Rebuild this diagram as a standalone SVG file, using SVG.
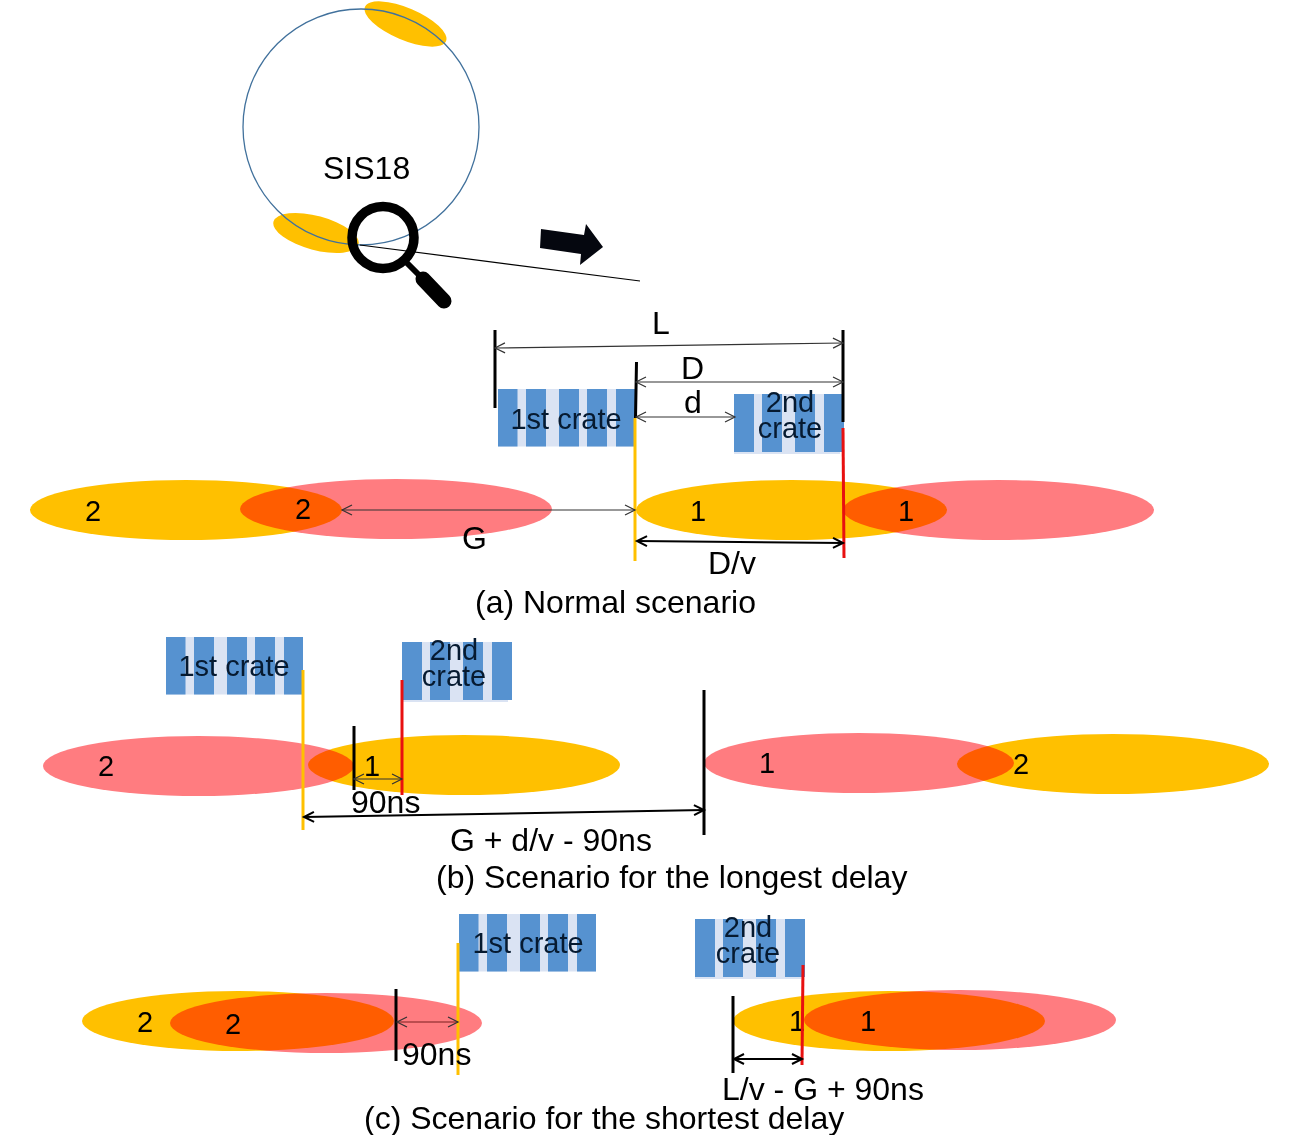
<svg xmlns="http://www.w3.org/2000/svg" xmlns:xlink="http://www.w3.org/1999/xlink" width="1303" height="1135" viewBox="0 0 1303 1135">
<style>
text{font-family:"Liberation Sans",Arial,sans-serif;fill:#000;font-size:32px}
.cr{font-size:29px;text-anchor:middle;fill:#061a30}
.n{font-size:29px}
.y{fill:#ffc000}
.p{fill:#ff7c80;mix-blend-mode:multiply}
.lt{fill:#dae3f3}
.b{fill:#5692d0}
.k{stroke:#000;stroke-width:3;fill:none}
.ye{stroke:#ffc000;stroke-width:3;fill:none}
.re{stroke:#e81010;stroke-width:3;fill:none}
.a{stroke:#333;stroke-width:1.2;fill:none;marker-start:url(#h);marker-end:url(#h)}
.a2{stroke:#000;stroke-width:2;fill:none;marker-start:url(#h2);marker-end:url(#h2)}
</style>
<defs>
<marker id="h" markerUnits="userSpaceOnUse" markerWidth="14" markerHeight="14" refX="11" refY="6" orient="auto-start-reverse"><path d="M1 1L11 6L1 11" fill="none" stroke="#333" stroke-width="1.2"/></marker>
<marker id="h2" markerUnits="userSpaceOnUse" markerWidth="14" markerHeight="14" refX="11" refY="6" orient="auto-start-reverse"><path d="M1 1L11 6L1 11" fill="none" stroke="#000" stroke-width="2"/></marker>
<g id="crate1"><rect class="lt" width="137" height="57.500"/><rect class="b" width="19.500" height="57.500"/><rect class="b" x="28" width="20" height="57.500"/><rect class="b" x="61" width="20" height="57.500"/><rect class="b" x="89" width="20" height="57.500"/><rect class="b" x="118" width="19" height="57.500"/></g>
<g id="crate2"><rect class="lt" width="106" height="60"/><rect class="b" width="20" height="58"/><rect class="b" x="28" width="20" height="58"/><rect class="b" x="61" width="20" height="58"/><rect class="b" x="90" width="20" height="58"/></g>
</defs>
<rect width="1303" height="1135" fill="#fff"/>

<g id="sis18-ring">
<ellipse class="y" cx="405.500" cy="24" rx="44" ry="16" transform="rotate(23 405.500 24)"/>
<ellipse class="y" cx="316" cy="233" rx="44" ry="17" transform="rotate(15 316 233)"/>
<circle cx="361" cy="127" r="118" fill="none" stroke="#41719c" stroke-width="1.300"/>
<text x="323" y="179">SIS18</text>
</g>
<g id="magnifier">
<path d="M360 245L640 281" stroke="#000" stroke-width="1.200" fill="none"/>
<circle cx="383" cy="237.500" r="31" fill="none" stroke="#000" stroke-width="9.500"/>
<path d="M405 261L423 279" stroke="#000" stroke-width="6" fill="none"/>
<path d="M423 279L444 301" stroke="#000" stroke-width="15" stroke-linecap="round" fill="none"/>
</g>
<g id="block-arrow"><polygon points="541,229 584,235 586,224 603,247 580,265 581,254 540,248" fill="#05070f"/></g>

<g id="bunches-a">
<ellipse class="y" cx="186" cy="510" rx="156" ry="30"/>
<ellipse class="p" cx="396" cy="509" rx="156" ry="30"/>
<ellipse class="y" cx="791.500" cy="510" rx="155.500" ry="30"/>
<ellipse class="p" cx="998.500" cy="510" rx="155.500" ry="30"/>
<text class="n" x="85" y="521">2</text><text class="n" x="295" y="519">2</text><text class="n" x="690" y="521">1</text><text class="n" x="898" y="521">1</text>
</g>
<g id="bunches-b">
<ellipse class="p" cx="198.500" cy="766" rx="155.500" ry="30"/>
<ellipse class="y" cx="464" cy="765" rx="156" ry="30" style="mix-blend-mode:multiply"/>
<ellipse class="p" cx="859" cy="763" rx="155" ry="30"/>
<ellipse class="y" cx="1113" cy="764" rx="156" ry="30" style="mix-blend-mode:multiply"/>
<text class="n" x="98" y="776">2</text><text class="n" x="364" y="776">1</text><text class="n" x="759" y="773">1</text><text class="n" x="1013" y="774">2</text>
</g>
<g id="bunches-c">
<ellipse class="y" cx="238" cy="1021" rx="156" ry="30"/>
<ellipse class="p" cx="326" cy="1023" rx="156" ry="30"/>
<ellipse class="y" cx="889" cy="1021" rx="156" ry="30"/>
<ellipse class="p" cx="960" cy="1020" rx="156" ry="30"/>
<text class="n" x="137" y="1032">2</text><text class="n" x="225" y="1034">2</text><text class="n" x="789" y="1031">1</text><text class="n" x="860" y="1031">1</text>
</g>

<g id="crate-a1"><use xlink:href="#crate1" href="#crate1" x="498" y="389"/><text class="cr" x="566" y="429">1st crate</text></g>
<g id="crate-a2"><use xlink:href="#crate2" href="#crate2" x="734" y="394"/><text class="cr" x="790" y="412">2nd</text><text class="cr" x="790" y="438">crate</text></g>
<g id="crate-b1"><use xlink:href="#crate1" href="#crate1" x="166" y="637"/><text class="cr" x="234" y="676">1st crate</text></g>
<g id="crate-b2"><use xlink:href="#crate2" href="#crate2" x="402" y="642"/><text class="cr" x="454" y="660">2nd</text><text class="cr" x="454" y="686">crate</text></g>
<g id="crate-c1"><use xlink:href="#crate1" href="#crate1" x="459" y="914"/><text class="cr" x="528" y="953">1st crate</text></g>
<g id="crate-c2"><use xlink:href="#crate2" href="#crate2" x="695" y="919"/><text class="cr" x="748" y="937">2nd</text><text class="cr" x="748" y="963">crate</text></g>

<g id="connectors">
<path class="k" d="M495 330V408M843 330V422M636.500 362L635.500 418"/>
<path class="ye" d="M635 418V561"/>
<path class="re" d="M843 428L844 558"/>
<path class="a" d="M495 348L843 343"/>
<path class="a" d="M636 382H843"/>
<path class="a" d="M636 417H735"/>
<path class="a" d="M342 510H635"/>
<path class="a2" d="M637 541L843 543"/>
<path class="ye" d="M303 670V830"/>
<path class="re" d="M402 680V795"/>
<path class="k" d="M354 726V790M704 690V835"/>
<path class="a" d="M354 779H402"/>
<path class="a2" d="M304 817L704 810"/>
<path class="k" d="M396 989V1061"/>
<path class="ye" d="M458 943V1075"/>
<path class="a" d="M397 1022H458" style="stroke:#7a1f1f"/>
<path class="re" d="M803 965L802 1065"/>
<path class="k" d="M733 996V1073"/>
<path class="a2" d="M734 1059H802"/>
</g>

<g id="labels">
<text x="652" y="334">L</text>
<text x="681" y="379">D</text>
<text x="684" y="413">d</text>
<text x="462" y="549">G</text>
<text x="708" y="574">D/v</text>
<text x="475" y="613">(a) Normal scenario</text>
<text x="351" y="813">90ns</text>
<text x="450" y="851">G + d/v - 90ns</text>
<text x="436" y="888">(b) Scenario for the longest delay</text>
<text x="402" y="1065">90ns</text>
<text x="722" y="1100">L/v - G + 90ns</text>
<text x="364" y="1129">(c) Scenario for the shortest delay</text>
</g>
</svg>
